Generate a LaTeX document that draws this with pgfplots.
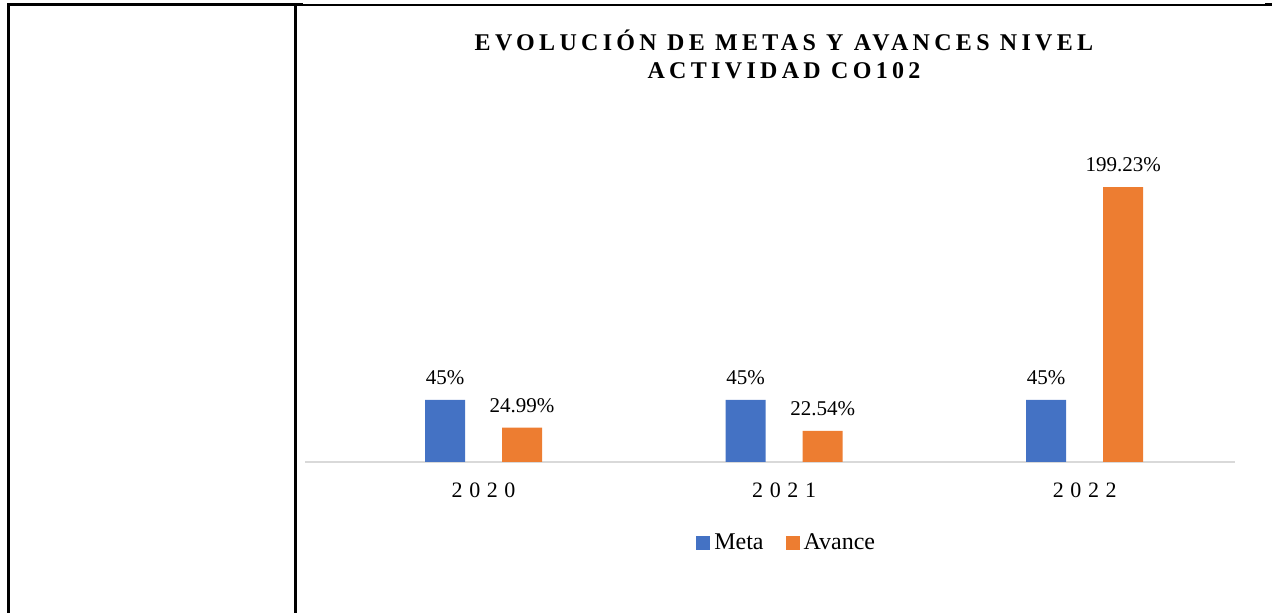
\documentclass[border=0pt]{standalone}
\usepackage{fontspec}
\setmainfont{Liberation Serif}
\usepackage{pgfplots}
\pgfplotsset{compat=1.18}
\definecolor{meta}{HTML}{4472C4}
\definecolor{avance}{HTML}{ED7D31}
\definecolor{axgray}{HTML}{D9D9D9}
\newfontfamily\titlefont{Liberation Serif}[LetterSpace=18]
\newfontfamily\tickfont{Liberation Serif}[LetterSpace=30]

\begin{document}
\begin{tikzpicture}[x=0.5pt,y=0.5pt]
% page frame (1272 x 613 px at 0.5pt/px)
\path[use as bounding box] (0,0) rectangle (1272,613);
% table cell borders
\draw[line width=1.5pt] (7,608) -- (303,608);
\draw[line width=0.8pt] (303,608) -- (1265,608);
\draw[line width=1.5pt] (1265,608) -- (1272,608);
\draw[line width=1.5pt] (8,608.7) -- (8,0);
\draw[line width=1.5pt] (295,608.7) -- (295,0);

% title
\node[font=\titlefont\fontsize{12}{14}\selectfont\bfseries, align=center] at (784,559)
  {EVOLUCIÓN DE METAS Y AVANCES NIVEL\\ACTIVIDAD CO102};

\begin{axis}[
    at={(152.5pt,75.5pt)}, anchor=south west,
    scale only axis,
    width=465pt, height=144.9pt,
    xmin=-0.594, xmax=2.5,
    ymin=0, ymax=210,
    axis x line=bottom, axis y line=none,
    axis line style={-, draw=axgray, line width=0.9pt},
    xtick={0,1,2}, xticklabels={2020,2021,2022},
    major tick length=0pt,
    ytick=\empty,
    xticklabel style={font=\tickfont\fontsize{11}{12}\selectfont, yshift=-7pt},
    ybar, bar width=20pt,
    point meta=explicit symbolic,
    nodes near coords,
    nodes near coords style={font=\fontsize{10.5}{12}\selectfont, text=black, yshift=4pt},
    legend style={at={(0.519,-0.28)}, anchor=center, legend columns=2, draw=none,
      font=\fontsize{12}{14}\selectfont,
      /tikz/every even column/.append style={column sep=9pt}},
    legend image code/.code={\fill[#1] (0pt,-3.5pt) rectangle (7pt,3.5pt);},
]
\addplot[fill=meta, draw=none, bar shift=-19.25pt] coordinates {
  (0,45) [45\%]
  (1,45) [45\%]
  (2,45) [45\%]
};
\addlegendentry{Meta}
\addplot[fill=avance, draw=none, bar shift=19.25pt] coordinates {
  (0,24.99) [24.99\%]
  (1,22.54) [22.54\%]
  (2,199.23) [199.23\%]
};
\addlegendentry{Avance}
\end{axis}
\end{tikzpicture}
\end{document}
